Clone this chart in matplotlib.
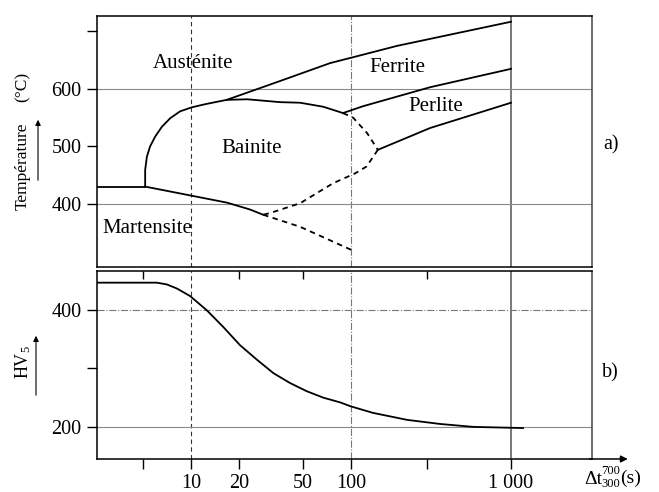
import matplotlib
matplotlib.use("Agg")
import matplotlib.pyplot as plt
from matplotlib.ticker import NullLocator

plt.rcParams["font.family"] = ["Liberation Serif", "DejaVu Serif"]
plt.rcParams["mathtext.fontset"] = "custom"
plt.rcParams["mathtext.rm"] = "Liberation Serif"
plt.rcParams["mathtext.it"] = "Liberation Serif:italic"

# ---- data (t in s, T in degC, hardness in HV5) ----
x_range = (2.58, 3206)

martensite_t = [2.58, 5.16]
martensite_T = [430, 430]

bainite_up_t = [5.16, 5.16, 5.29, 5.54, 5.96, 6.56, 7.4, 8.53, 10.1, 12.5, 16.7,
                22.4, 36, 48, 67, 89]
bainite_up_T = [430, 459, 482, 500, 517, 534, 549, 561, 568, 574, 581,
                582, 577, 576, 569, 558]

bainite_low_t = [5.16, 16.8, 23.4, 28.2]
bainite_low_T = [430, 402, 390, 381]

aust_ferr_t = [16.7, 34.5, 74, 109, 194, 1000]
aust_ferr_T = [581, 612, 645, 657, 675, 717]

ferr_perl_t = [89, 119, 312, 1000]
ferr_perl_T = [558, 570, 603, 635]

perl_low_t = [147, 312, 1000]
perl_low_T = [494, 532, 576]

dash_up_t = [89, 103, 126, 147]
dash_up_T = [558, 550, 523, 494]

dash_low_t = [147, 125, 106, 77.4, 48, 31.2, 28.2]
dash_low_T = [494, 465, 453, 436, 401, 384, 381]

dash_mart_t = [28.2, 48, 100]
dash_mart_T = [381, 360, 320]

hv_t = [2.58, 4.8, 6.1, 7.05, 8.15, 9.86, 12.5, 15.9, 20.2, 25.8, 32.7, 41.6,
        52.9, 67.1, 85.3, 100, 137, 224, 360, 579, 1189]
hv = [447, 447, 447, 444, 437, 424, 400, 371, 340, 315, 292, 275,
      261, 250, 242, 235, 224, 212, 205, 200, 198]

regions = ["Austénite", "Ferrite", "Perlite", "Bainite", "Martensite"]
region_t = [10.3, 194, 340, 24, 5.3]
region_T = [645, 638, 570, 497, 357]

x_ticks = [5, 10, 20, 50, 100, 300, 1000]
x_ticklabels = ["", "10", "20", "50", "100", "", "1 000"]
top_ticks = [5, 20, 50, 300]

T_ticks = [400, 500, 600, 700]
T_ticklabels = ["400", "500", "600", ""]
hv_ticks = [200, 300, 400]
hv_ticklabels = ["200", "", "400"]

curve = dict(color="black", lw=1.3)
dashed = dict(color="black", lw=1.3, ls=(0, (3, 2.5)))

fig = plt.figure(figsize=(6.59, 4.92), dpi=100)
ax_t = fig.add_axes([0.1472, 0.4573, 0.7511, 0.5102])
ax_h = fig.add_axes([0.1472, 0.0671, 0.7511, 0.3821])

for ax in (ax_t, ax_h):
    ax.set_xscale("log")
    ax.set_xlim(*x_range)
    ax.xaxis.set_minor_locator(NullLocator())
    for s in ax.spines.values():
        s.set_linewidth(1.1)
    ax.spines["right"].set_color("#444444")
    ax.axvline(10, color="#333333", lw=0.8, ls=(0, (4, 3)))
    ax.axvline(100, color="#777777", lw=0.8, ls="-.")
    ax.axvline(1000, color="#555555", lw=1.1)
    ax.tick_params(axis="y", direction="out", length=7, width=1, labelsize=14.5, pad=4)

# ---- a) transformation diagram ----
ax_t.set_ylim(290, 727)
ax_t.set_yticks(T_ticks)
ax_t.set_yticklabels(T_ticklabels)
ax_t.tick_params(axis="x", bottom=False, labelbottom=False)
ax_t.axhline(600, color="#8a8a8a", lw=0.8)
ax_t.axhline(400, color="#8a8a8a", lw=0.8)

ax_t.plot(martensite_t, martensite_T, **curve)
ax_t.plot(bainite_up_t, bainite_up_T, **curve)
ax_t.plot(bainite_low_t, bainite_low_T, **curve)
ax_t.plot(aust_ferr_t, aust_ferr_T, **curve)
ax_t.plot(ferr_perl_t, ferr_perl_T, **curve)
ax_t.plot(perl_low_t, perl_low_T, **curve)
ax_t.plot(dash_up_t, dash_up_T, **dashed)
ax_t.plot(dash_low_t, dash_low_T, **dashed)
ax_t.plot(dash_mart_t, dash_mart_T, **dashed)

for name, t, T in zip(regions, region_t, region_T):
    ax_t.text(t, T, name, ha="center", va="center", fontsize=15)

# ---- b) hardness ----
ax_h.set_ylim(145, 467)
ax_h.set_yticks(hv_ticks)
ax_h.set_yticklabels(hv_ticklabels)
ax_h.set_xticks(x_ticks)
ax_h.set_xticklabels(x_ticklabels)
ax_h.tick_params(axis="x", direction="out", length=7, width=1, labelsize=14.5, pad=4)
ax_h.axhline(400, color="#777777", lw=0.8, ls="-.")
ax_h.axhline(200, color="#8a8a8a", lw=0.8)
ax_h.plot(hv_t, hv, **curve)

sec = ax_h.secondary_xaxis("top")
sec.set_xticks(top_ticks)
sec.xaxis.set_minor_locator(NullLocator())
sec.tick_params(direction="in", length=6, width=1, labeltop=False)
sec.spines["top"].set_visible(False)

# x axis arrow
ax_h.annotate("", xy=(1.078, 0), xytext=(0.99, 0), xycoords="axes fraction",
              arrowprops=dict(arrowstyle="-|>", color="black", lw=1.1, mutation_scale=10))

# axis labels
fig.text(23 / 659, 1 - 166 / 492, "Température", rotation=90, ha="center", va="center", fontsize=12.5)
fig.text(23 / 659, 1 - 87 / 492, "(°C)", rotation=90, ha="center", va="center", fontsize=12.5)
ax_t.annotate("", xy=(38 / 659, 1 - 117 / 492), xytext=(38 / 659, 1 - 183 / 492),
              xycoords="figure fraction",
              arrowprops=dict(arrowstyle="-|>", color="black", lw=0.8, mutation_scale=8))

fig.text(23 / 659, 1 - 362 / 492, "HV$_5$", rotation=90, ha="center", va="center", fontsize=13)
ax_h.annotate("", xy=(36 / 659, 1 - 333 / 492), xytext=(36 / 659, 1 - 398 / 492),
              xycoords="figure fraction",
              arrowprops=dict(arrowstyle="-|>", color="black", lw=0.8, mutation_scale=8))

fig.text(584 / 659, 1 - 479 / 492, "Δt", ha="left", va="center", fontsize=14)
fig.text(611 / 659, 1 - 471 / 492, "700", ha="center", va="center", fontsize=9)
fig.text(611 / 659, 1 - 484 / 492, "300", ha="center", va="center", fontsize=9)
fig.text(620 / 659, 1 - 478 / 492, "(s)", ha="left", va="center", fontsize=14)

fig.text(611 / 659, 1 - 145 / 492, "a)", ha="center", va="center", fontsize=14.5)
fig.text(610 / 659, 1 - 373 / 492, "b)", ha="center", va="center", fontsize=14.5)

fig.savefig("out.png", dpi=100)
